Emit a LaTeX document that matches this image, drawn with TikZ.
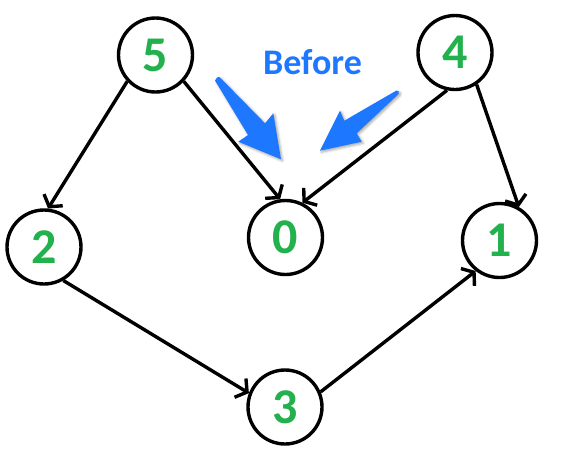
\documentclass[tikz,border=0pt]{standalone}
\usepackage{fontspec}
\newfontfamily\digitfont{Carlito}
\usepackage{tikz}
\usetikzlibrary{%
  arrows.meta,%
  shadows,%
  shadows.blur,%
  positioning,% wg. " of "
  calc
}
\definecolor{numgreen}{RGB}{34,177,76}
\definecolor{markblue}{RGB}{30,120,255}

\begin{document}
\begin{tikzpicture}[
  x=1pt, y=-1pt, line width=3.4pt, >={Straight Barb[length=8pt,width=22pt]},
  vertex/.style={circle, minimum size=74pt, inner sep=0pt, draw=black, fill=white, text=numgreen, font=\digitfont\bfseries\fontsize{50}{50}\selectfont},
  arc/.style={->, draw=black},
  pointer/.style={fill=markblue, draw=none, blur shadow={shadow xshift=1.5pt, shadow yshift=-1.5pt, shadow blur radius=2.5pt, shadow opacity=35}},
  banner/.style={font=\digitfont\bfseries\fontsize{36}{36}\selectfont, inner sep=0pt}
]
\useasboundingbox (0,0) rectangle (565,456);

\node[vertex] (v5) at (155.5,55) {5};
\node[vertex] (v4) at (455,52.5) {4};
\node[vertex] (v2) at (44,247) {2};
\node[vertex] (v0) at (285.5,237.5) {0};
\node[vertex] (v1) at (499.5,240.5) {1};
\node[vertex] (v3) at (285,407) {3};

\draw[arc] (v5.223) -- (v2.84);
\draw[arc] (v5.317) -- (v0.98);
\draw[arc] (v4.258) -- (v0.64);
\draw[arc] (v4.304) -- (v1.60);
\draw[arc] (v2.300) -- (v3.159);
\draw[arc] (v3.23) -- (v1.232);

% label with its two pointers
\node[banner, text=markblue] (before) at (312.5,62.5) {Before};

\fill[pointer] (215,80.5) -- (248,135) -- (238.3,141.7) -- (281,159.3)
  -- (273.3,113.3) -- (265,123.3) -- (219.5,77) -- (217,77.5) -- cycle;
\fill[pointer] (396.5,90.5) -- (344.3,120.7) -- (340,110.7) -- (320,150.7)
  -- (361.7,141.7) -- (356.7,133.3) -- (398.5,94) -- (398.8,91.5) -- cycle;
\end{tikzpicture}
\end{document}
